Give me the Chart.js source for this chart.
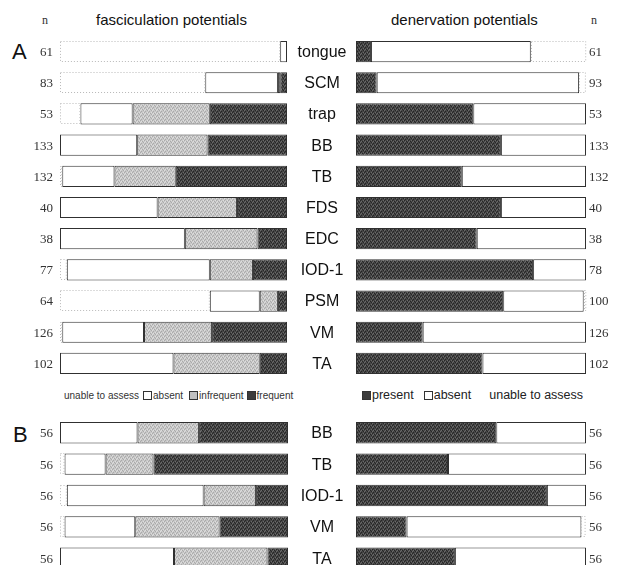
<!DOCTYPE html>
<html>
<head>
<meta charset="utf-8">
<script src="https://cdn.jsdelivr.net/npm/chart.js@4/dist/chart.umd.min.js"></script>
<style>
  html, body { margin: 0; padding: 0; background: #fff; }
  body { width: 619px; height: 565px; position: relative; overflow: hidden; font-family: "Liberation Sans", Arial, sans-serif; color: #111; }
  .box { position: absolute; }
  .txt { position: absolute; white-space: nowrap; line-height: 1; }
  .serif { font-family: "Liberation Serif", "Times New Roman", serif; color: #333; }
  .sw { display: inline-block; width: 7px; height: 7px; border: 1px solid #333; vertical-align: -1px; margin-right: 1px; }
</style>
</head>
<body>
<div class="txt serif" style="left:42px; top:14px; font-size:12px;">n</div>
<div class="txt" style="left:96px; top:12px; font-size:15px;">fasciculation potentials</div>
<div class="txt" style="left:391px; top:12px; font-size:15px;">denervation potentials</div>
<div class="txt serif" style="left:591px; top:14px; font-size:12px;">n</div>
<div class="txt" style="left:12px; top:41px; font-size:22px;">A</div>
<div class="txt" style="left:13px; top:424px; font-size:22px;">B</div>

<div class="box" style="left:0; top:36px;"><canvas id="fascA" width="288" height="343"></canvas></div>
<div class="box" style="left:288px; top:36px;"><canvas id="denA" width="331" height="343"></canvas></div>
<div class="box" style="left:0; top:417px;"><canvas id="fascB" width="288" height="157"></canvas></div>
<div class="box" style="left:288px; top:417px;"><canvas id="denB" width="331" height="157"></canvas></div>

<div id="legendL" class="txt" style="left:64px; top:391px; font-size:10px; color:#333;"></div>
<div id="legendR" class="txt" style="left:362px; top:389px; font-size:12.5px; color:#222;"></div>

<script>
// panel A
const musclesA = ['tongue', 'SCM', 'trap', 'BB', 'TB', 'FDS', 'EDC', 'IOD-1', 'PSM', 'VM', 'TA'];
const nFascA = [61, 83, 53, 133, 132, 40, 38, 77, 64, 126, 102];
const nDenA = [61, 93, 53, 133, 132, 40, 38, 78, 100, 126, 102];
// fasciculation potentials (% of n)
const frequentA = [0, 3, 34, 35, 49, 22, 13, 15, 4, 33, 12];
const infrequentA = [0, 1, 34, 31, 27, 35, 32, 19, 8, 30, 38];
const absentA = [3, 32, 23, 34, 23, 43, 55, 63, 22, 36, 50];
const unableA = [97, 64, 9, 0, 1, 0, 0, 3, 66, 1, 0];
// denervation potentials (% of n)
const presentA = [6.5, 9, 51, 63, 46, 63, 52.5, 77, 64, 29, 55];
const absentDenA = [69.5, 88, 49, 37, 54, 37, 47.5, 23, 35, 71, 45];
const unableDenA = [24, 3, 0, 0, 0, 0, 0, 0, 1, 0, 0];

// panel B
const musclesB = ['BB', 'TB', 'IOD-1', 'VM', 'TA'];
const nFascB = [56, 56, 56, 56, 56];
const nDenB = [56, 56, 56, 56, 56];
const frequentB = [39, 59, 14, 30, 9];
const infrequentB = [27, 21, 23, 37, 41];
const absentB = [34, 18, 60, 31, 50];
const unableB = [0, 2, 3, 2, 0];
const presentB = [61, 40, 83, 22, 43];
const absentDenB = [39, 60, 17, 76, 57];
const unableDenB = [0, 0, 0, 2, 0];

const fascLegend = ['unable to assess', 'absent', 'infrequent', 'frequent'];
const denLegend = ['present', 'absent', 'unable to assess'];

// grainy fills like the printed figure
function makePattern(base, dots, light) {
  const c = document.createElement('canvas');
  c.width = 4; c.height = 4;
  const g = c.getContext('2d');
  g.fillStyle = base;
  g.fillRect(0, 0, 4, 4);
  g.fillStyle = dots;
  [[0, 0], [2, 1], [1, 3], [3, 2]].forEach(([x, y]) => g.fillRect(x, y, 1, 1));
  g.fillStyle = light;
  [[1, 1], [3, 0], [0, 2]].forEach(([x, y]) => g.fillRect(x, y, 1, 1));
  return g.createPattern(c, 'repeat');
}
const darkFill = makePattern('#464646', '#262626', '#6a6a6a');
const grayFill = makePattern('#c8c8c8', '#aaaaaa', '#dedede');

// dotted outline for "unable to assess" segments
const dottedPlugin = {
  id: 'dotted',
  afterDatasetsDraw(chart) {
    const ctx = chart.ctx;
    chart.data.datasets.forEach((ds, i) => {
      if (!ds.dotted) return;
      chart.getDatasetMeta(i).data.forEach(el => {
        const p = el.getProps(['x', 'y', 'base', 'height'], true);
        if (Math.abs(p.x - p.base) < 1) return;
        const l = Math.min(p.x, p.base), r = Math.max(p.x, p.base);
        ctx.save();
        ctx.strokeStyle = '#b8b8b8';
        ctx.lineWidth = 1;
        ctx.setLineDash([1, 2]);
        ctx.strokeRect(Math.round(l) + 0.5, Math.round(p.y - p.height / 2) + 0.5, r - l - 1, Math.round(p.height) - 1);
        ctx.restore();
      });
    });
  }
};

// n counts and muscle names beside the bars
const rowTextPlugin = {
  id: 'rowText',
  afterDraw(chart, args, opts) {
    const ctx = chart.ctx;
    const y = chart.scales.y;
    const area = chart.chartArea;
    ctx.save();
    ctx.textBaseline = 'middle';
    if (opts.nLeft) {
      ctx.font = '13px "Liberation Serif", serif';
      ctx.fillStyle = '#333';
      ctx.textAlign = 'right';
      opts.nLeft.forEach((v, i) => ctx.fillText(v, area.left - 7, y.getPixelForValue(i) + 1));
    }
    if (opts.names) {
      ctx.font = '16px "Liberation Sans", Arial, sans-serif';
      ctx.fillStyle = '#111';
      ctx.textAlign = 'center';
      opts.names.forEach((v, i) => ctx.fillText(v, area.left - 34, y.getPixelForValue(i) + 1));
    }
    if (opts.nRight) {
      ctx.font = '13px "Liberation Serif", serif';
      ctx.fillStyle = '#333';
      ctx.textAlign = 'left';
      opts.nRight.forEach((v, i) => ctx.fillText(v, area.right + 3, y.getPixelForValue(i) + 1));
    }
    ctx.restore();
  }
};

function barSet(label, data, bg, dotted) {
  return {
    label: label,
    data: data,
    backgroundColor: bg,
    borderColor: dotted ? 'rgba(0,0,0,0)' : '#303030',
    borderWidth: dotted ? 0 : 1,
    borderSkipped: false,
    barPercentage: 0.68,
    categoryPercentage: 1,
    dotted: dotted
  };
}

function makeChart(id, labels, datasets, reverse, padding, text) {
  return new Chart(document.getElementById(id), {
    type: 'bar',
    data: { labels: labels, datasets: datasets },
    options: {
      indexAxis: 'y',
      responsive: false,
      animation: false,
      layout: { padding: padding },
      plugins: {
        legend: { display: false },
        tooltip: { enabled: false },
        rowText: text
      },
      scales: {
        x: { type: 'linear', min: 0, max: 100, reverse: reverse, stacked: true, display: false },
        y: { stacked: true, display: false }
      }
    },
    plugins: [dottedPlugin, rowTextPlugin]
  });
}

// left: stacked from the centre outwards
makeChart('fascA', musclesA, [
  barSet('frequent', frequentA, darkFill, false),
  barSet('infrequent', infrequentA, grayFill, false),
  barSet('absent', absentA, '#ffffff', false),
  barSet('unable to assess', unableA, 'rgba(0,0,0,0)', true)
], true, { left: 60, right: 1, top: 0, bottom: 0 }, { nLeft: nFascA });

makeChart('denA', musclesA, [
  barSet('present', presentA, darkFill, false),
  barSet('absent', absentDenA, '#ffffff', false),
  barSet('unable to assess', unableDenA, 'rgba(0,0,0,0)', true)
], false, { left: 68, right: 33, top: 0, bottom: 0 }, { names: musclesA, nRight: nDenA });

makeChart('fascB', musclesB, [
  barSet('frequent', frequentB, darkFill, false),
  barSet('infrequent', infrequentB, grayFill, false),
  barSet('absent', absentB, '#ffffff', false),
  barSet('unable to assess', unableB, 'rgba(0,0,0,0)', true)
], true, { left: 60, right: 0, top: 0, bottom: 0 }, { nLeft: nFascB });

makeChart('denB', musclesB, [
  barSet('present', presentB, darkFill, false),
  barSet('absent', absentDenB, '#ffffff', false),
  barSet('unable to assess', unableDenB, 'rgba(0,0,0,0)', true)
], false, { left: 68, right: 33, top: 0, bottom: 0 }, { names: musclesB, nRight: nDenB });

// legends
const swatch = {
  'unable to assess': null,
  'absent': '#ffffff',
  'infrequent': '#c0c0c0',
  'frequent': '#3c3c3c',
  'present': '#3c3c3c'
};
function legendHtml(items, gaps) {
  return items.map((t, i) => {
    const sw = swatch[t] ? '<span class="sw" style="background:' + swatch[t] + '"></span>' : '';
    return '<span style="margin-right:' + gaps[i] + 'px">' + sw + t + '</span>';
  }).join('');
}
document.getElementById('legendL').innerHTML = legendHtml(fascLegend, [4, 6, 3, 0]);
document.getElementById('legendR').innerHTML = legendHtml(denLegend, [10, 18, 0]);
</script>
</body>
</html>
